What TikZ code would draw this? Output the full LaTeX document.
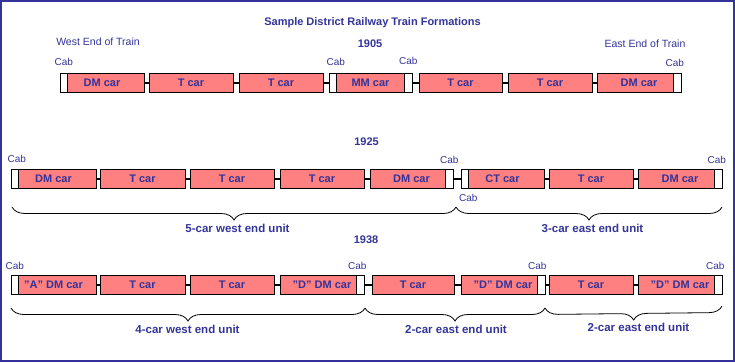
\documentclass[tikz,border=0pt]{standalone}
\usepackage{fontspec}
\setmainfont{Liberation Sans}
\usetikzlibrary{positioning,decorations.pathreplacing}
\definecolor{ink}{RGB}{51,51,153}
\definecolor{carred}{RGB}{255,128,128}

\begin{document}
\begin{tikzpicture}[x=1pt,y=-1pt,
    car/.style={draw,line width=0.9pt,fill=carred,text=ink,font=\fontsize{11}{13}\selectfont\bfseries,minimum width=84pt,minimum height=19pt,inner sep=0pt},
    cab/.style={draw,line width=0.9pt,fill=white,minimum width=7.5pt,minimum height=19pt,inner sep=0pt},
    coupler/.style={line width=2pt},
    cablabel/.style={text=ink,font=\fontsize{10}{12}\selectfont,inner sep=0pt},
    endlabel/.style={text=ink,font=\fontsize{10.5}{12}\selectfont},
    heading/.style={text=ink,font=\fontsize{11}{13}\selectfont\bfseries},
    unitbrace/.style={decorate,decoration={brace,mirror,amplitude=13pt},line width=0.8pt},
    unitlabel/.style={text=ink,font=\fontsize{11.5}{13}\selectfont\bfseries}]
      \useasboundingbox (0,0) rectangle (735,362);
      \draw[ink,line width=2pt] (1,1) rectangle (734,361);
      \node[heading] (title) at (372.5,23) {Sample District Railway Train Formations};
      \node[endlabel] (west) at (98,41.5) {West End of Train};
      \node[endlabel] (east) at (645,43.5) {East End of Train};

      % 1905
      \node[heading] (y1905) at (370,43.5) {1905};
      \node[car] (r1a) at (102,82.5) {DM car};
      \node[car] (r1b) at (191,82.5) {T car};
      \node[car] (r1c) at (281,82.5) {T car};
      \node[car,minimum width=83pt] (r1d) at (370.5,82.5) {MM car};
      \node[car,minimum width=83pt] (r1e) at (460.5,82.5) {T car};
      \node[car] (r1f) at (550,82.5) {T car};
      \node[car] (r1g) at (639,82.5) {DM car};
      \node[cab,anchor=west] (r1a-cab) at (r1a.west) {};
      \node[cab,anchor=west] (r1d-cabw) at (r1d.west) {};
      \node[cab,anchor=east] (r1d-cabe) at (r1d.east) {};
      \node[cab,anchor=east] (r1g-cab) at (r1g.east) {};
      \draw[coupler] (r1a.east) -- (r1b.west) (r1b.east) -- (r1c.west) (r1c.east) -- (r1d.west)
        (r1d.east) -- (r1e.west) (r1e.east) -- (r1f.west) (r1f.east) -- (r1g.west);
      \node[cablabel,above=7pt of r1a-cab] (r1a-lab) {Cab};
      \node[cablabel,above=7pt of r1d-cabw,xshift=3pt] (r1dw-lab) {Cab};
      \node[cablabel,above=7.5pt of r1d-cabe] (r1de-lab) {Cab};
      \node[cablabel,above=6pt of r1g-cab,xshift=-2.5pt] (r1g-lab) {Cab};

      % 1925
      \node[heading] (y1925) at (366.5,141.5) {1925};
      \node[car,minimum width=85pt] (r2a) at (53.5,178.5) {DM car};
      \node[car,minimum width=85pt] (r2b) at (142.5,178.5) {T car};
      \node[car] (r2c) at (232,178.5) {T car};
      \node[car] (r2d) at (322,178.5) {T car};
      \node[car,minimum width=83pt] (r2e) at (411.5,178.5) {DM car};
      \node[car,minimum width=83pt] (r2f) at (502.5,178.5) {CT car};
      \node[car] (r2g) at (591,178.5) {T car};
      \node[car] (r2h) at (680,178.5) {DM car};
      \node[cab,anchor=west] (r2a-cab) at (r2a.west) {};
      \node[cab,anchor=east] (r2e-cab) at (r2e.east) {};
      \node[cab,anchor=west] (r2f-cab) at (r2f.west) {};
      \node[cab,anchor=east] (r2h-cab) at (r2h.east) {};
      \draw[coupler] (r2a.east) -- (r2b.west) (r2b.east) -- (r2c.west) (r2c.east) -- (r2d.west) (r2d.east) -- (r2e.west)
        (r2e.east) -- (r2f.west) (r2f.east) -- (r2g.west) (r2g.east) -- (r2h.west);
      \node[cablabel,above=6pt of r2a-cab,xshift=2pt] (r2a-lab) {Cab};
      \node[cablabel,above=5pt of r2e-cab] (r2e-lab) {Cab};
      \node[cablabel,below=6pt of r2f-cab,xshift=3.5pt] (r2f-lab) {Cab};
      \node[cablabel,above=5pt of r2h-cab,xshift=-1.5pt] (r2h-lab) {Cab};
      \coordinate (b2a) at (12,207);
      \coordinate (b2b) at (456,207);
      \coordinate (b2c) at (722,207);
      \draw[unitbrace] (b2a) -- (b2b);
      \draw[unitbrace] (b2b) -- (b2c);
      \node[unitlabel] (u2a) at (237.5,228) {5-car west end unit};
      \node[unitlabel] (u2b) at (592.5,228.5) {3-car east end unit};

      % 1938
      \node[heading] (y1938) at (366,240) {1938};
      \node[car,minimum width=85pt] (r3a) at (53.5,284.5) {"A" DM car};
      \node[car,minimum width=85pt] (r3b) at (142.5,284.5) {T car};
      \node[car] (r3c) at (232,284.5) {T car};
      \node[car] (r3d) at (322,284.5) {"D" DM car};
      \node[car,minimum width=82pt] (r3e) at (413,284.5) {T car};
      \node[car] (r3f) at (503,284.5) {"D" DM car};
      \node[car] (r3g) at (591,284.5) {T car};
      \node[car] (r3h) at (680,284.5) {"D" DM car};
      \node[cab,anchor=west] (r3a-cab) at (r3a.west) {};
      \node[cab,anchor=east] (r3d-cab) at (r3d.east) {};
      \node[cab,anchor=east] (r3f-cab) at (r3f.east) {};
      \node[cab,anchor=east] (r3h-cab) at (r3h.east) {};
      \draw[coupler] (r3a.east) -- (r3b.west) (r3b.east) -- (r3c.west) (r3c.east) -- (r3d.west) (r3d.east) -- (r3e.west)
        (r3e.east) -- (r3f.west) (r3f.east) -- (r3g.west) (r3g.east) -- (r3h.west);
      \node[cablabel,above=5pt of r3a-cab] (r3a-lab) {Cab};
      \node[cablabel,above=5pt of r3d-cab,xshift=-3pt] (r3d-lab) {Cab};
      \node[cablabel,above=5pt of r3f-cab,xshift=-4pt] (r3f-lab) {Cab};
      \node[cablabel,above=5pt of r3h-cab,xshift=-3pt] (r3h-lab) {Cab};
      \coordinate (b3a) at (11,308);
      \coordinate (b3b) at (365,308);
      \coordinate (b3c) at (545,308);
      \coordinate (b3d) at (722,306);
      \draw[unitbrace] (b3a) -- (b3b);
      \draw[unitbrace] (b3b) -- (b3c);
      \draw[unitbrace] (b3c) -- (b3d);
      \node[unitlabel] (u3a) at (187.5,329.5) {4-car west end unit};
      \node[unitlabel] (u3b) at (456,329) {2-car east end unit};
      \node[unitlabel] (u3c) at (638.5,327) {2-car east end unit};
    \end{tikzpicture}
\end{document}
